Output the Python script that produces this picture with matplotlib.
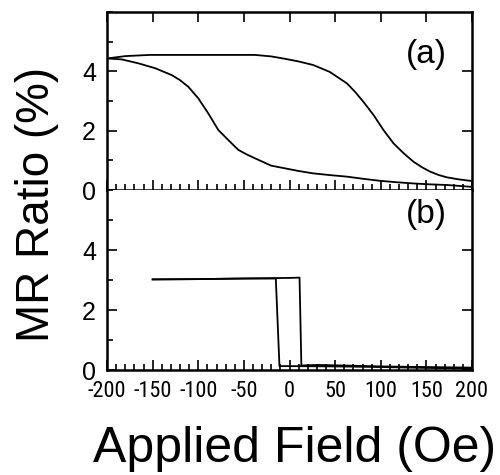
import numpy as np
import matplotlib
matplotlib.use('Agg')
import matplotlib.pyplot as plt
from matplotlib.ticker import MultipleLocator

plt.rcParams['font.family'] = ['Liberation Sans', 'DejaVu Sans']
plt.rcParams['axes.unicode_minus'] = False

# ---- panel (a): two branches of the MR loop
upper_x = [-200, -180, -153, -92, -38, -20, -5, 10, 26, 44, 63, 72, 81, 92, 103,
           114, 125, 136, 145, 154, 163, 172, 185, 198]
upper_y = [4.43, 4.51, 4.55, 4.55, 4.55, 4.5, 4.42, 4.33, 4.21, 3.98, 3.59, 3.3,
           2.97, 2.53, 2.02, 1.57, 1.24, 0.95, 0.77, 0.62, 0.51, 0.43, 0.36, 0.31]

lower_x = [-200, -184, -166, -147, -129, -120, -111, -100, -89, -78, -67, -56,
           -47, -38, -28, -20, -5, 10, 26, 45, 63, 80, 99, 118, 136, 154, 172, 198]
lower_y = [4.43, 4.4, 4.27, 4.1, 3.87, 3.7, 3.48, 3.09, 2.58, 2.02, 1.68, 1.35,
           1.2, 1.07, 0.93, 0.82, 0.73, 0.64, 0.56, 0.5, 0.45, 0.38, 0.31, 0.26,
           0.22, 0.19, 0.17, 0.11]

# ---- panel (b): square loop
b_up_x = [-150, -100, -50, 0, 11, 13, 30, 60, 100, 150, 200]
b_up_y = [3.02, 3.03, 3.05, 3.07, 3.08, 0.15, 0.17, 0.15, 0.12, 0.1, 0.08]
b_down_x = [200, 150, 100, 50, 0, -11, -15, -50, -100, -150]
b_down_y = [0.05, 0.07, 0.1, 0.12, 0.13, 0.13, 3.05, 3.05, 3.03, 3.02]

xticks = [-200, -150, -100, -50, 0, 50, 100, 150, 200]
xticklabels = ['-200', '-150', '-100', '-50', '0', '50', '100', '150', '200']
yticks = [0, 2, 4]

fig = plt.figure(figsize=(5, 4.75), dpi=100)
ax_a = fig.add_axes([0.214, 0.6, 0.73, 0.375])
ax_b = fig.add_axes([0.214, 0.221, 0.73, 0.379])

ax_a.plot(upper_x, upper_y, color='black', lw=1.3)
ax_a.plot(lower_x, lower_y, color='black', lw=1.3)
ax_b.plot(b_up_x, b_up_y, color='black', lw=1.3)
ax_b.plot(b_down_x, b_down_y, color='black', lw=1.3)

for ax in (ax_a, ax_b):
    ax.set_xlim(-200, 200)
    ax.set_ylim(0, 6)
    ax.set_xticks(xticks)
    ax.xaxis.set_minor_locator(MultipleLocator(10))
    ax.set_yticks(yticks)
    ax.yaxis.set_minor_locator(MultipleLocator(1))
    for s in ax.spines.values():
        s.set_linewidth(1.8)
    ax.tick_params(axis='both', which='both', direction='in', width=1.2)
    ax.tick_params(axis='both', which='major', length=7)
    ax.tick_params(axis='both', which='minor', length=4)
    ax.tick_params(axis='y', right=True, labelsize=18, pad=8)
    ax.tick_params(axis='x', pad=8)

ax_a.tick_params(axis='x', top=True, labelbottom=False)
ax_b.tick_params(axis='x', top=False)
ax_b.spines['top'].set_visible(False)
ax_b.set_xticks(xticks, xticklabels, fontfamily='Roboto Condensed', fontsize=16)

ax_a.text(173, 4.55, '(a)', fontsize=24, ha='right', va='center')
ax_b.text(173, 5.2, '(b)', fontsize=24, ha='right', va='center')

fig.text(0.075, 0.57, 'MR Ratio (%)', fontsize=33, rotation=90, ha='center', va='center')
fig.text(0.59, 0.055, 'Applied Field (Oe)', fontsize=36, ha='center', va='center')

fig.savefig('out.png', dpi=100)
